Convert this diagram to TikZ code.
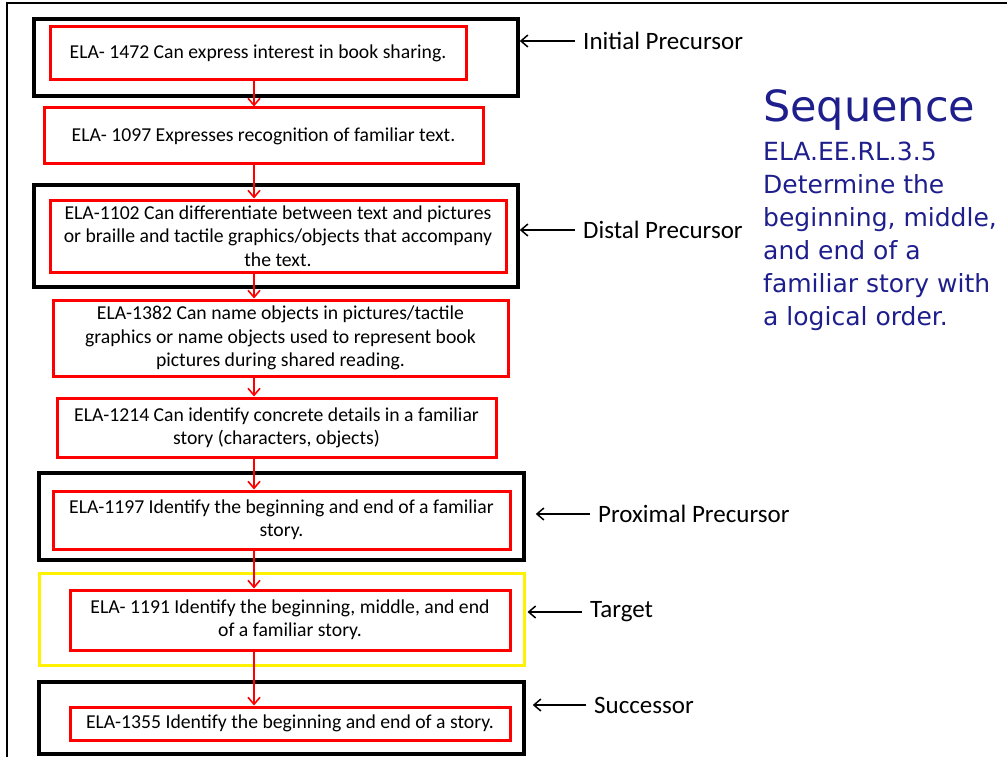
\documentclass[tikz,border=0pt]{standalone}
\usepackage{fontspec}
\setmainfont{Carlito}
\newfontfamily\seqfont{DejaVu Sans}
\usetikzlibrary{arrows.meta,fit}
\definecolor{seqblue}{RGB}{30,30,140}

\begin{document}
\begin{tikzpicture}[
  x=1pt,y=-1pt,>={Straight Barb[length=7pt,width=12pt]},
  frame/.style={draw,line width=3.5pt,inner sep=0pt},
  goal/.style={frame,draw=yellow,line width=3pt},
  skill/.style={draw=red,line width=3pt,align=center,
    font=\fontsize{19.7}{23.3}\selectfont,inner sep=0pt},
  flow/.style={->,red,line width=1.6pt},
  tag/.style={anchor=west,inner xsep=8pt,inner ysep=0pt,
    font=\fontsize{25}{30}\selectfont},
  pointer/.style={->,line width=1.5pt},
  seqtext/.style={align=left,inner sep=0pt,text=seqblue}
]
\useasboundingbox (0,0) rectangle (1007,757);
\draw[line width=2pt] (7,757) -- (7,3) -- (1007,3);

% level frames
\node[frame,fit={(34,19) (518,96)}]   (f1) {};
\node[frame,fit={(34,185) (518,287)}] (f3) {};
\node[frame,fit={(39,473) (524,560)}] (f6) {};
\node[goal,fit={(39,573) (524,665)}]  (tgt) {};
\node[frame,fit={(39,682) (524,754)}] (f8) {};

% skills
\node[skill,minimum width=416,minimum height=53] (r1) at (258,53.5)
  {ELA- 1472 Can express interest in book sharing.};
\node[skill,minimum width=439,minimum height=56] (r2) at (263.5,136)
  {ELA- 1097 Expresses recognition of familiar text.};
\node[skill,minimum width=456,minimum height=72] (r3) at (278,236)
  {ELA-1102 Can differentiate between text and pictures\\or braille and tactile graphics/objects that accompany\\the text.};
\node[skill,minimum width=455,minimum height=76] (r4) at (280.5,338)
  {ELA-1382 Can name objects in pictures/tactile\\graphics or name objects used to represent book\\pictures during shared reading.};
\node[skill,minimum width=439,minimum height=59] (r5) at (276.5,427.5)
  {ELA-1214 Can identify concrete details in a familiar\\story (characters, objects)};
\node[skill,minimum width=457,minimum height=58] (r6) at (281.5,520)
  {ELA-1197 Identify the beginning and end of a familiar\\story.};
\node[skill,minimum width=440,minimum height=60] (r7) at (290,620)
  {ELA- 1191 Identify the beginning, middle, and end\\of a familiar story.};
\node[skill,minimum width=440,minimum height=33] (r8) at (290,723.5)
  {ELA-1355 Identify the beginning and end of a story.};

\coordinate (ax) at (254,0);
\draw[flow] (r1.south -| ax) -- (r2.north -| ax);
\draw[flow] (r2.south -| ax) -- (r3.north -| ax);
\draw[flow] (r3.south -| ax) -- (r4.north -| ax);
\draw[flow] (r4.south -| ax) -- (r5.north -| ax);
\draw[flow] (r5.south -| ax) -- (r6.north -| ax);
\draw[flow] (r6.south -| ax) -- (r7.north -| ax);
\draw[flow] (r7.south -| ax) -- (r8.north -| ax);

% level tags
\node[tag] (t1) at (575,41)  {Initial Precursor};
\node[tag] (t3) at (575,230) {Distal Precursor};
\node[tag] (t6) at (590,514) {Proximal Precursor};
\node[tag] (t7) at (582,612) {Target};
\node[tag] (t8) at (586,705) {Successor};
\draw[pointer] (t1.west) -- (t1.west -| f1.east);
\draw[pointer] (t3.west) -- (t3.west -| f3.east);
\draw[pointer,shorten >=10pt] (t6.west) -- (t6.west -| f6.east);
\draw[pointer,shorten >=2pt] (t7.west) -- (t7.west -| tgt.east);
\draw[pointer,shorten >=7pt] (t8.west) -- (t8.west -| f8.east);

% standard
\node[seqtext,anchor=base west,font=\seqfont\fontsize{43}{50}\selectfont] (seq) at (763,122) {Sequence};
\node[seqtext,anchor=north west,font=\seqfont\fontsize{25}{33}\selectfont] (std) at (763,142)
  {ELA.EE.RL.3.5\\Determine the\\beginning, middle,\\and end of a\\familiar story with\\a logical order.};
\end{tikzpicture}
\end{document}
